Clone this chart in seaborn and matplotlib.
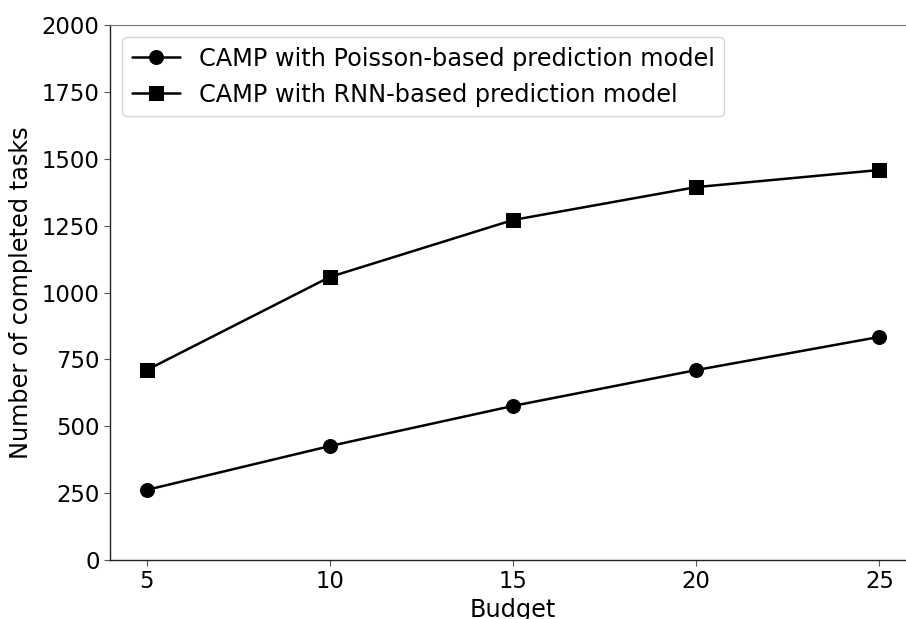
import matplotlib
matplotlib.use("Agg")
import matplotlib.pyplot as plt
import seaborn as sns
import pandas as pd

budget = [5, 10, 15, 20, 25]
poisson = [262, 426, 576, 710, 834]
rnn = [710, 1058, 1271, 1394, 1458]
labels = ["CAMP with Poisson-based prediction model", "CAMP with RNN-based prediction model"]

sns.set_style("white")
plt.rcParams['font.family'] = ['DejaVu Sans']
plt.rcParams['text.color'] = 'black'
plt.rcParams['axes.labelcolor'] = 'black'
plt.rcParams['xtick.color'] = 'black'
plt.rcParams['ytick.color'] = 'black'

df = pd.DataFrame({
    "Budget": budget * 2,
    "Tasks": poisson + rnn,
    "Model": [labels[0]] * 5 + [labels[1]] * 5,
})

fig = plt.figure(figsize=(9.06, 6.19), dpi=100)
ax = fig.add_axes([0.1214, 0.0953, 0.8896, 0.8643])
sns.lineplot(data=df, x="Budget", y="Tasks", hue="Model", style="Model",
             markers={labels[0]: "o", labels[1]: "s"}, dashes=False,
             palette={labels[0]: "black", labels[1]: "black"},
             markersize=10, linewidth=1.8, markeredgecolor="black", ax=ax)
ax.set_xlim(4, 26)
ax.set_ylim(0, 2000)
ax.set_xticks([5, 10, 15, 20, 25])
ax.set_yticks([0, 250, 500, 750, 1000, 1250, 1500, 1750, 2000])
ax.tick_params(axis='both', labelsize=16.4, length=4, width=0.8, colors='black',
               color='#555555', bottom=True, left=True)
ax.set_xlabel("Budget", fontsize=17.3, labelpad=3)
ax.set_ylabel("Number of completed tasks", fontsize=17.3, labelpad=6)
for s in ["left", "bottom"]:
    ax.spines[s].set_color("#222222")
    ax.spines[s].set_linewidth(1)
ax.spines["top"].set_color("#777777")
ax.spines["right"].set_visible(False)
leg = ax.legend(loc="upper left", fontsize=17.3, title=None, frameon=True)
for t in leg.get_texts():
    t.set_color("black")
fig.savefig("out.png", dpi=100)
